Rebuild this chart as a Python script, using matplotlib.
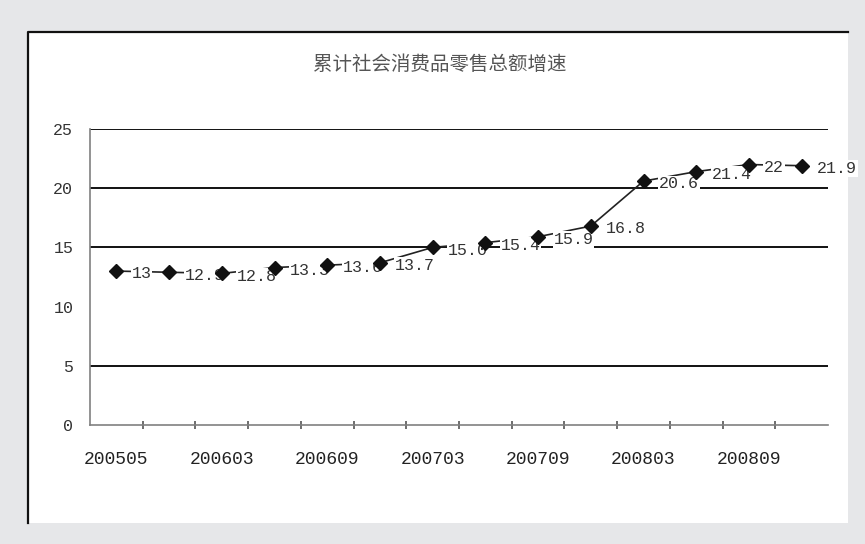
import matplotlib
matplotlib.use("Agg")
import matplotlib.pyplot as plt
from matplotlib.patches import Rectangle
from matplotlib.lines import Line2D

# Monthly cumulative retail sales growth (%)
periods = ["200505", "200512", "200603", "200606", "200609", "200612", "200703",
           "200706", "200709", "200712", "200803", "200806", "200809", "200810"]
growth = [13.0, 12.9, 12.8, 13.3, 13.5, 13.7, 15.0,
          15.4, 15.9, 16.8, 20.6, 21.4, 22.0, 21.9]
value_labels = ["13", "12.9", "12.8", "13.3", "13.6", "13.7", "15.0",
                "15.4", "15.9", "16.8", "20.6", "21.4", "22", "21.9"]
y_ticks = [0, 5, 10, 15, 20, 25]
grid_levels = [5, 15, 20, 25]
title = "累计社会消费品零售总额增速"

W, H = 865, 544
fig = plt.figure(figsize=(W / 100, H / 100), dpi=100)
fig.patch.set_facecolor("#e6e7e9")

# white chart panel with dark top/left edge
panel = Rectangle((28 / W, 1 - 523 / H), (848 - 28) / W, (523 - 32) / H,
                  transform=fig.transFigure, facecolor="white", edgecolor="none", zorder=-2)
fig.patches.append(panel)
fig.lines.append(Line2D([28 / W, 28 / W, 848 / W], [1 - 523 / H, 1 - 32 / H, 1 - 32 / H],
                        transform=fig.transFigure, color="#111111", lw=1.6, zorder=-1))

ax = fig.add_axes([90 / W, 1 - 425 / H, (828 - 90) / W, (425 - 129) / H])
ax.set_facecolor("white")

x = list(range(len(periods)))
ax.set_xlim(-0.5, len(periods) - 0.5)
ax.set_ylim(0, 25)

for g in grid_levels:
    ax.axhline(g, color="#111111", lw=1.4, zorder=1)

ax.plot(x, growth, color="#222222", lw=1.2, zorder=2)
for xi, yi, lab in zip(x, growth, value_labels):
    ax.annotate(lab, (xi, yi), xytext=(11, -2), textcoords="offset points",
                ha="left", va="center", fontsize=12, family="Liberation Mono",
                color="#333333", zorder=3,
                bbox=dict(boxstyle="square,pad=0.05", fc="white", ec="none"))
ax.plot(x, growth, linestyle="none", marker="D", markersize=7.5,
        color="#111111", zorder=4)

for side in ("top", "right"):
    ax.spines[side].set_visible(False)
for side in ("left", "bottom"):
    ax.spines[side].set_color("#808080")
    ax.spines[side].set_linewidth(1.2)

ax.set_yticks(y_ticks)
ax.set_yticklabels([str(v) for v in y_ticks], family="Liberation Mono",
                   fontsize=12, color="#333333")
ax.tick_params(axis="y", length=0, pad=12)

ax.set_xticks(x[::2])
ax.set_xticklabels(periods[::2], family="Liberation Mono", fontsize=13, color="#222222")
ax.tick_params(axis="x", which="major", length=0, pad=19)
ax.set_xticks([i + 0.5 for i in x[:-1]], minor=True)
ax.tick_params(axis="x", which="minor", length=6, direction="inout", color="#555555", width=1.2)

fig.text(440 / W, 1 - 65 / H, title, ha="center", va="center", fontsize=14,
         family=["Noto Sans CJK SC", "DejaVu Sans"], color="#555555")

fig.savefig("out.png", dpi=100, facecolor=fig.get_facecolor())
